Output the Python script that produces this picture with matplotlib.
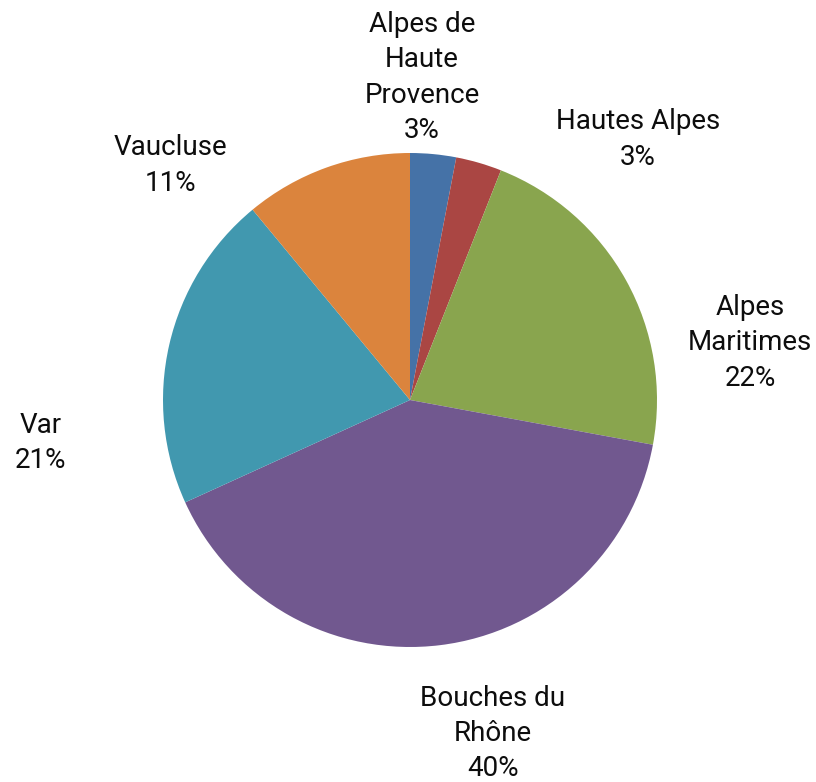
import matplotlib.pyplot as plt

# data
names = ['Alpes de\nHaute\nProvence', 'Hautes Alpes', 'Alpes\nMaritimes',
         'Bouches du\nRhône', 'Var', 'Vaucluse']
values = [3.0, 3.0, 21.9, 40.3, 20.8, 11.0]
colors = ['#4572A7', '#AA4643', '#89A54E', '#71588F', '#4198AF', '#DB843D']

# where each label sits (pie radius = 1)
label_pos = [(0.049, 1.306), (0.923, 1.055), (1.377, 0.231),
             (0.336, -1.35), (-1.494, -0.174), (-0.968, 0.950)]

plt.rcParams['font.family'] = ['Roboto', 'DejaVu Sans']

fig = plt.figure(figsize=(8.16, 7.82), dpi=100)
ax = fig.add_axes([0, 0, 1, 1])

wedges, texts = ax.pie(values, colors=colors, startangle=90, counterclock=False,
                       radius=1, center=(0, 0))

for name, v, pos in zip(names, values, label_pos):
    ax.text(pos[0], pos[1], '%s\n%d%%' % (name, round(v)), ha='center', va='center',
            fontsize=20, color='#0d0d0d', linespacing=1.4)

# pie centre at (410, 400) px, radius 247 px
ax.set_xlim(-410 / 247, 406 / 247)
ax.set_ylim(-382 / 247, 400 / 247)
ax.set_aspect('auto')
ax.axis('off')

plt.savefig('out.png', dpi=100)
